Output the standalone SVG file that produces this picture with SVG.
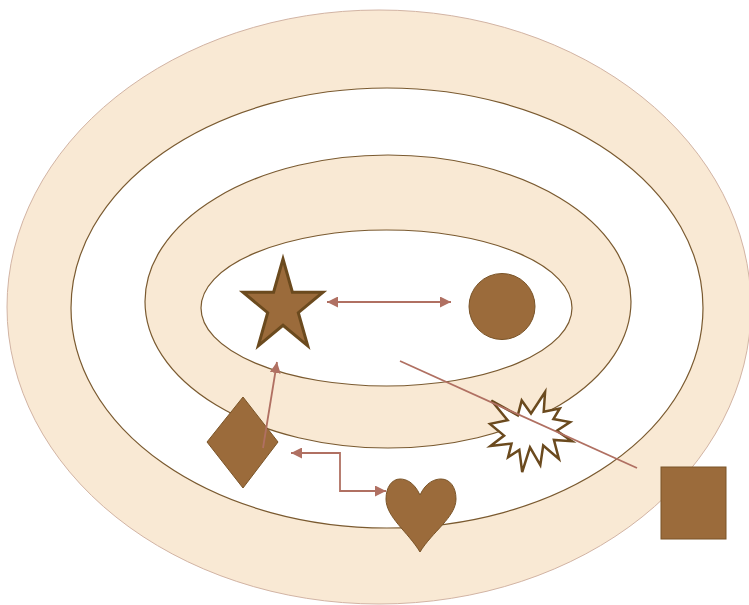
<svg xmlns="http://www.w3.org/2000/svg" width="749" height="605" viewBox="0 0 749 605">
<defs>
<style>
.ring{fill:#f9e9d4;stroke:#7a5a30;stroke-width:1.2}
.hole{fill:#ffffff;stroke:#7a5a30;stroke-width:1.2}
.shape{fill:#9b6b3b;stroke:#7a5428;stroke-width:1}
.conn{fill:none;stroke:#b07062;stroke-width:1.8}
</style>
<marker id="ah" viewBox="0 0 10 10" refX="10" refY="5" markerWidth="11" markerHeight="11" markerUnits="userSpaceOnUse" orient="auto-start-reverse">
<path d="M0,0 L10,5 L0,10 Z" fill="#b07062"/>
</marker>
</defs>
<rect width="749" height="605" fill="#ffffff"/>
<g id="rings">
<ellipse cx="379" cy="307" rx="372" ry="297" fill="#f9e9d4" stroke="#d2b4a4" stroke-width="1"/>
<ellipse class="hole" cx="387" cy="308" rx="316" ry="220"/>
<ellipse class="ring" cx="388" cy="301.5" rx="243" ry="146.5"/>
<ellipse class="hole" cx="386.5" cy="308" rx="185.5" ry="78"/>
</g>
<g id="star">
<polygon points="283,259 292.4,292.2 323,292.2 298.3,312.7 307.7,345.8 283,325.3 258.3,345.8 267.7,312.7 243,292.2 273.6,292.2" fill="#9b6b3b" stroke="#6b4a1e" stroke-width="3" stroke-linejoin="miter"/>
</g>
<g id="circle">
<circle class="shape" cx="502" cy="306.5" r="33"/>
</g>
<g id="diamond">
<polygon class="shape" points="243,397 278,442 243,488 207,442"/>
</g>
<g id="heart">
<path class="shape" d="M420,495 C414,482 406,479 400,479 C392,479 386,487 386,499 C386,517 408,532 420,552 C432,532 456,517 456,499 C456,487 450,479 441,479 C435,479 426,482 420,495 Z"/>
</g>
<g id="explosion">
<polygon points="531,413.5 545.1,392 543.7,411.7 559.8,408.5 553.4,419.1 570.1,422.1 556.8,430.8 572,441.2 553.9,439.9 558.9,459 543.2,445.5 540.3,465.1 530,447.3 522.2,472 519.3,449.9 508.1,457.2 511.5,443.6 490.5,446 504.1,435.6 490,423.9 507.6,420.2 491.4,400.5 517.8,415.4 521.7,400.5" fill="#ffffff" stroke="#6b4a1e" stroke-width="2.5" stroke-linejoin="miter"/>
</g>
<g id="square">
<rect class="shape" x="661" y="467" width="65" height="72"/>
</g>
<g id="connectors">
<line class="conn" x1="327" y1="302" x2="451" y2="302" stroke-width="2.2" marker-start="url(#ah)" marker-end="url(#ah)"/>
<line class="conn" x1="263" y1="448" x2="277" y2="362" stroke-width="1.2" marker-end="url(#ah)"/>
<path class="conn" d="M291,453 H340 V491 H386" marker-start="url(#ah)" marker-end="url(#ah)"/>
<line class="conn" x1="400" y1="361" x2="637" y2="468" stroke-width="1.3"/>
</g>
</svg>
